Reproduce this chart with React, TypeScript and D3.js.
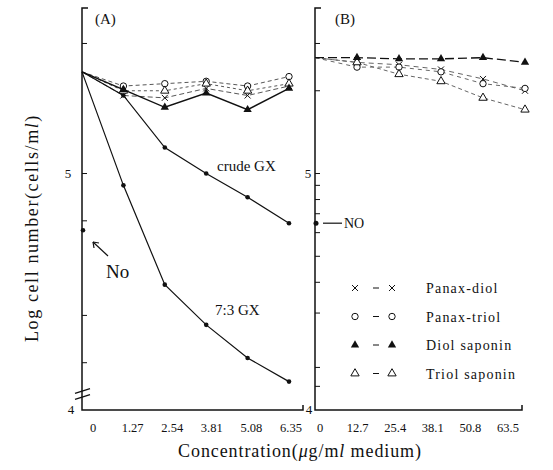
import * as d3 from 'd3';

// concentration (µg/ml)
const concA = [0, 1.27, 2.54, 3.81, 5.08, 6.35];
const concB = [0, 12.7, 25.4, 38.1, 50.8, 63.5];
const labelsA = ['0', '1.27', '2.54', '3.81', '5.08', '6.35'];
const labelsB = ['0', '12.7', '25.4', '38.1', '50.8', '63.5'];

// log cell number, panel A
const crudeGX = [5.43, 5.33, 5.11, 5.0, 4.9, 4.79];
const gx73 = [5.43, 4.95, 4.53, 4.36, 4.22, 4.12];
const diolSapA = [5.43, 5.355, 5.28, 5.34, 5.27, 5.36];
const panaxDiolA = [5.43, 5.33, 5.32, 5.36, 5.33, 5.37];
const panaxTriolA = [5.43, 5.37, 5.38, 5.39, 5.37, 5.41];
const triolSapA = [5.43, 5.35, 5.35, 5.38, 5.35, 5.38];
const noA = 4.76;

// panel B
const diolSapB = [5.49, 5.49, 5.485, 5.485, 5.49, 5.47];
const panaxDiolB = [5.49, 5.47, 5.46, 5.44, 5.4, 5.35];
const panaxTriolB = [5.49, 5.45, 5.45, 5.43, 5.38, 5.36];
const triolSapB = [5.49, 5.47, 5.42, 5.39, 5.32, 5.27];
const noB = 4.79;

const ticksA = [5.55, 5.0, 4.8, 4.4, 4.2];
const ticksB = [5.55, 5.35, 5.0, 4.95, 4.89, 4.83, 4.75, 4.65, 4.54, 4.41, 4.18, 4.1];

const legendItems = [
  { name: 'Panax-diol', mark: 'x' },
  { name: 'Panax-triol', mark: 'o' },
  { name: 'Diol saponin', mark: 'tri' },
  { name: 'Triol saponin', mark: 'otri' },
];

const font = '"Liberation Serif", "DejaVu Serif", serif';
const ink = '#111';

const y = d3.scaleLinear().domain([4, 5.7]).range([410, 8]);
const xA = d3.scaleLinear().domain([0, 6.35]).range([82, 289]);
const xB = d3.scaleLinear().domain([0, 63.5]).range([315, 525]);
const labA = d3.scaleLinear().domain([0, 6.35]).range([93, 291]);
const labB = d3.scaleLinear().domain([0, 63.5]).range([320, 508]);

const triPath = d3.symbol(d3.symbolTriangle, 30)() as string;

function Marker({ kind, cx, cy }: { kind: string; cx: number; cy: number }) {
  if (kind === 'x') {
    return (
      <g transform={`translate(${cx},${cy})`} stroke={ink} strokeWidth={1}>
        <line x1={-3} y1={-3} x2={3} y2={3} />
        <line x1={-3} y1={3} x2={3} y2={-3} />
      </g>
    );
  }
  if (kind === 'o') return <circle cx={cx} cy={cy} r={3.2} fill="#fff" stroke={ink} strokeWidth={1} />;
  if (kind === 'tri') return <path d={triPath} transform={`translate(${cx},${cy})`} fill={ink} />;
  if (kind === 'otri') return <path d={triPath} transform={`translate(${cx},${cy})`} fill="#fff" stroke={ink} strokeWidth={1} />;
  return <circle cx={cx} cy={cy} r={2.3} fill={ink} />;
}

function Series({ xs, ys, xScale, dash, width, mark, color }: any) {
  const line = d3.line<number>().x((_, i) => xScale(xs[i])).y((d) => y(d));
  return (
    <g>
      <path d={line(ys) as string} fill="none" stroke={color || ink} strokeWidth={width || 1.2} strokeDasharray={dash} />
      {ys.slice(1).map((v: number, i: number) => (
        <Marker key={i} kind={mark} cx={xScale(xs[i + 1])} cy={y(v)} />
      ))}
    </g>
  );
}

function Frame({ x0, x1, ticks, lab4x, lab5x }: { x0: number; x1: number; ticks: number[]; lab4x: number; lab5x: number }) {
  return (
    <g stroke={ink} fill="none">
      <path d={`M${x0 + 6},${y(5.7)}H${x0}V${y(4)}H${x1}V${y(4) - 5}`} strokeWidth={1.5} />
      {ticks.map((t) => (
        <line key={t} x1={x0} x2={x0 + 5} y1={y(t)} y2={y(t)} strokeWidth={1} />
      ))}
      <text x={lab4x} y={y(4) + 4} fontSize={13} fill={ink} stroke="none" textAnchor="middle" fontFamily={font}>4</text>
      <text x={lab5x} y={y(5) + 4} fontSize={13} fill={ink} stroke="none" textAnchor="middle" fontFamily={font}>5</text>
    </g>
  );
}

export default function App() {
  return (
    <div style={{ position: 'absolute', left: 0, top: 0 }}>
      <svg width={553} height={470} style={{ display: 'block', background: '#fff' }} fontFamily={font}>
        {/* Panel A */}
        <Frame x0={82} x1={303} ticks={ticksA} lab4x={71} lab5x={68} />
        <line x1={75} y1={y(4.07)} x2={90} y2={y(4.09)} stroke={ink} strokeWidth={1.3} />
        <line x1={75} y1={y(4.045)} x2={90} y2={y(4.065)} stroke={ink} strokeWidth={1.3} />
        <text x={95} y={24} fontSize={15} fill={ink}>(A)</text>

        <Series xs={concA} ys={panaxDiolA} xScale={xA} dash="5,3" width={0.9} mark="x" color="#444" />
        <Series xs={concA} ys={panaxTriolA} xScale={xA} dash="4,3" width={0.9} mark="o" color="#444" />
        <Series xs={concA} ys={triolSapA} xScale={xA} dash="3,3" width={0.9} mark="otri" color="#444" />
        <Series xs={concA} ys={diolSapA} xScale={xA} width={1.5} mark="tri" />
        <Series xs={concA} ys={crudeGX} xScale={xA} width={1.2} mark="dot" />
        <Series xs={concA} ys={gx73} xScale={xA} width={1.2} mark="dot" />
        <circle cx={xA(0) + 1} cy={y(noA)} r={2.3} fill={ink} />

        <text x={217} y={171} fontSize={15} fill={ink}>crude GX</text>
        <text x={215} y={315} fontSize={15} fill={ink}>7:3 GX</text>
        <text x={106} y={278} fontSize={19} fill={ink}>No</text>
        <line x1={108} y1={256} x2={93} y2={242} stroke={ink} strokeWidth={1.2} />
        <path d="M93,242 l1,6 M93,242 l6,1" stroke={ink} strokeWidth={1.2} fill="none" />

        {concA.map((c, i) => (
          <text key={c} x={labA(c)} y={432} fontSize={12.5} textAnchor="middle" fill={ink}>{labelsA[i]}</text>
        ))}

        {/* Panel B */}
        <Frame x0={315} x1={522} ticks={ticksB} lab4x={309} lab5x={308} />
        <text x={335} y={24} fontSize={15} fill={ink}>(B)</text>

        <Series xs={concB} ys={panaxDiolB} xScale={xB} dash="5,4" width={0.9} mark="x" color="#555" />
        <Series xs={concB} ys={panaxTriolB} xScale={xB} dash="4,4" width={0.9} mark="o" color="#555" />
        <Series xs={concB} ys={triolSapB} xScale={xB} dash="4,3" width={0.9} mark="otri" color="#555" />
        <Series xs={concB} ys={diolSapB} xScale={xB} dash="9,4" width={1.3} mark="tri" />
        <circle cx={xB(0) + 1} cy={y(noB)} r={2.5} fill={ink} />
        <line x1={323} x2={342} y1={y(noB)} y2={y(noB)} stroke={ink} strokeWidth={1.2} />
        <text x={344} y={y(noB) + 5} fontSize={14} fill={ink}>NO</text>

        {concB.map((c, i) => (
          <text key={c} x={labB(c)} y={432} fontSize={12.5} textAnchor="middle" fill={ink}>{labelsB[i]}</text>
        ))}

        {/* legend */}
        {legendItems.map((d, i) => {
          const ly = 288 + i * 28.5;
          return (
            <g key={d.name}>
              <Marker kind={d.mark} cx={355} cy={ly} />
              <line x1={373} x2={379} y1={ly} y2={ly} stroke={ink} strokeWidth={1} />
              <Marker kind={d.mark} cx={392} cy={ly} />
              <text x={426} y={ly + 5} fontSize={14} letterSpacing={1.2} fill={ink}>{d.name}</text>
            </g>
          );
        })}

        {/* axis titles */}
        <text transform="translate(38,228) rotate(-90)" fontSize={18} letterSpacing={1.6} textAnchor="middle" fill={ink}>
          Log cell number(cells/m<tspan fontStyle="italic">l</tspan>)
        </text>
        <text x={300} y={457} fontSize={18} letterSpacing={0.9} textAnchor="middle" fill={ink}>
          Concentration(<tspan fontStyle="italic">μ</tspan>g/m<tspan fontStyle="italic">l</tspan> medium)
        </text>
      </svg>
    </div>
  );
}
